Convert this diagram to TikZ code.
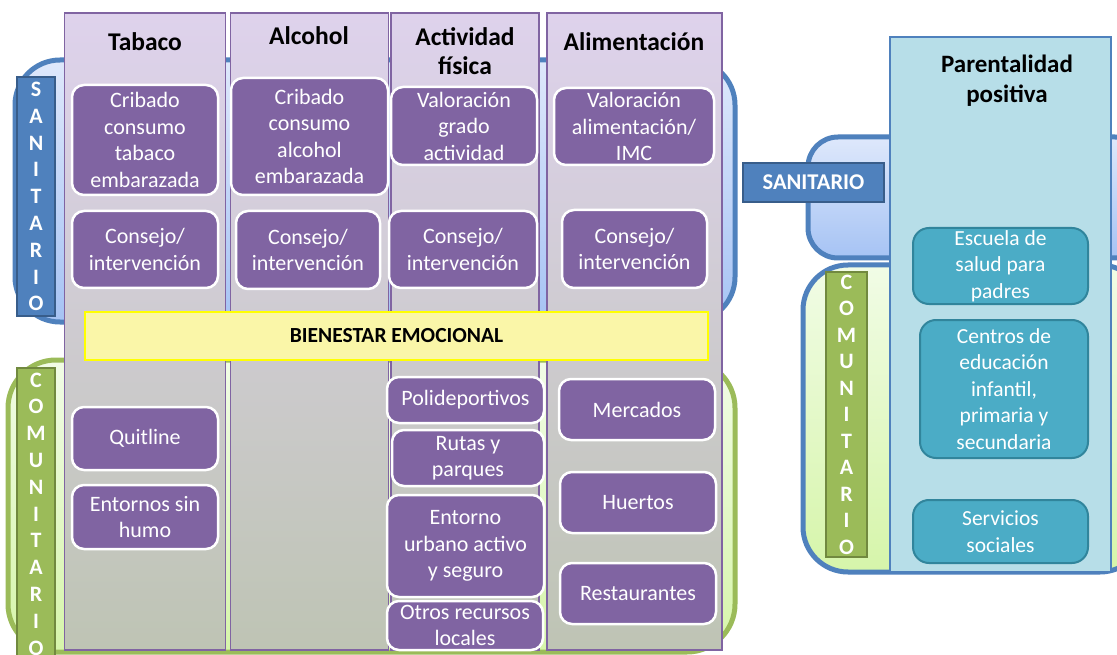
\documentclass[tikz,border=0pt]{standalone}
\usepackage{fontspec}
\setmainfont{Carlito}
\definecolor{purp}{RGB}{128,100,162}
\definecolor{purpline}{RGB}{128,100,162}
\definecolor{colTop}{RGB}{222,210,236}
\definecolor{colBot}{RGB}{190,196,180}
\definecolor{blueline}{RGB}{79,129,189}
\definecolor{blueTop}{RGB}{222,232,251}
\definecolor{blueBot}{RGB}{166,195,244}
\definecolor{greenline}{RGB}{155,187,89}
\definecolor{greenTop}{RGB}{241,252,230}
\definecolor{greenBot}{RGB}{214,245,170}
\definecolor{labblue}{RGB}{79,129,189}
\definecolor{labblueline}{RGB}{56,93,138}
\definecolor{labgreen}{RGB}{155,187,89}
\definecolor{labgreenline}{RGB}{113,137,63}
\definecolor{ltblue}{RGB}{183,222,232}
\definecolor{teal}{RGB}{75,172,198}
\definecolor{tealline}{RGB}{49,133,156}
\definecolor{yelfill}{RGB}{250,246,168}
\definecolor{yelline}{RGB}{255,255,0}
\newcommand\boxfont{\fontsize{22}{26.5}\selectfont}
\newcommand\tealfont{\fontsize{21.5}{26.5}\selectfont}
\newcommand\headfont{\fontsize{25.5}{29}\selectfont\bfseries}
\newcommand\vletfont{\fontsize{22}{26.8}\selectfont\bfseries}
\tikzset{
  pbox/.style={draw=white, line width=2.5, fill=purp, rounded corners=12, text=white, align=center, font=\boxfont, inner sep=0},
  tbox/.style={draw=tealline, line width=2, fill=teal, rounded corners=16, text=white, align=center, font=\tealfont, inner sep=0},
  colbox/.style={draw=purpline, line width=1.6, top color=colTop, bottom color=colBot, inner sep=0},
  head/.style={align=center, font=\headfont, inner sep=0},
  vlabB/.style={draw=labblueline, line width=1.5, fill=labblue, text=white, align=center, font=\vletfont, inner sep=0},
  vlabG/.style={draw=labgreenline, line width=1.5, fill=labgreen, text=white, align=center, font=\vletfont, inner sep=0},
  areaB/.style={draw=blueline, line width=5, top color=blueTop, bottom color=blueBot},
  areaG/.style={draw=greenline, line width=5, top color=greenTop, bottom color=greenBot},
  areaBG/.style={draw=blueline, line width=5, top color=greenTop, bottom color=greenBot},
}
\begin{document}
\begin{tikzpicture}[x=1pt,y=-1pt]
\useasboundingbox (0,0) rectangle (1117,655);
\clip (0,0) rectangle (1117,655);
\fill[white] (0,0) rectangle (1117,655);
% left areas
\path[areaB, rounded corners=45] (15,60) rectangle (735,322);
\path[areaG, rounded corners=48] (8,360) rectangle (735,652);
% right areas
\path[areaB, rounded corners=30] (808,137) rectangle (1145,258);
\path[areaBG, rounded corners=45] (803,265) rectangle (1145,572);
% columns
\node[colbox, minimum width=161, minimum height=637] (ctab) at (145,331.5) {};
\node[colbox, minimum width=158, minimum height=637] (calc) at (309.5,331.5) {};
\node[colbox, minimum width=148, minimum height=637] (cact) at (465,331.5) {};
\node[colbox, minimum width=175, minimum height=637] (cali) at (634.5,331.5) {};
% headers
\node[head] (htab) at (145,42) {Tabaco};
\node[head] (halc) at (309,36) {Alcohol};
\node[head] (hact) at (465,51.5) {Actividad\\física};
\node[head] (hali) at (634,42) {Alimentación};
% vertical labels left
\node[vlabB, minimum width=38, minimum height=239] (lsan) at (36,196.5) {S\\A\\N\\I\\T\\A\\R\\I\\O};
\node[vlabG, minimum width=38, minimum height=292] (lcom) at (36,514) {C\\O\\M\\U\\N\\I\\T\\A\\R\\I\\O};
% Tabaco boxes
\node[pbox, minimum width=146, minimum height=110] (tab1) at (145,140) {Cribado\\consumo\\tabaco\\embarazada};
\node[pbox, minimum width=146, minimum height=77] (tab2) at (145,249.5) {Consejo/\\intervención};
\node[pbox, minimum width=146, minimum height=63] (tab3) at (145,438.5) {Quitline};
\node[pbox, minimum width=146, minimum height=64] (tab4) at (145,517) {Entornos sin\\humo};
% Alcohol boxes
\node[pbox, minimum width=157, minimum height=117] (alc1) at (309.5,136.5) {Cribado\\consumo\\alcohol\\embarazada};
\node[pbox, minimum width=144, minimum height=78] (alc2) at (308,250) {Consejo/\\intervención};
% Actividad boxes
\node[pbox, minimum width=146, minimum height=78] (act1) at (464,126) {Valoración\\grado\\actividad};
\node[pbox, minimum width=148, minimum height=77] (act2) at (463,249.5) {Consejo/\\intervención};
\node[pbox, minimum width=157, minimum height=46] (act3) at (465.5,400) {Polideportivos};
\node[pbox, minimum width=152, minimum height=56] (act4) at (468,458) {Rutas y\\parques};
\node[pbox, minimum width=157, minimum height=102] (act5) at (465.5,546) {Entorno\\urbano activo\\y seguro};
\node[pbox, minimum width=156, minimum height=49] (act6) at (465,625.5) {Otros recursos\\locales};
% Alimentacion boxes
\node[pbox, minimum width=160, minimum height=77] (ali1) at (634,126.5) {Valoración\\alimentación/\\IMC};
\node[pbox, minimum width=145, minimum height=78] (ali2) at (634.5,249) {Consejo/\\intervención};
\node[pbox, minimum width=156, minimum height=61] (ali3) at (637,409.5) {Mercados};
\node[pbox, minimum width=156, minimum height=61] (ali4) at (638,502.5) {Huertos};
\node[pbox, minimum width=156, minimum height=61] (ali5) at (638,593.5) {Restaurantes};
% Bienestar
\node[draw=yelline, line width=2.5, fill=yelfill, minimum width=623, minimum height=48, inner sep=0, font=\fontsize{21.5}{24}\selectfont\bfseries] (bien) at (396.5,336) {BIENESTAR EMOCIONAL};
% Right column
\node[draw=blueline, line width=1.6, fill=ltblue, minimum width=221, minimum height=535, inner sep=0] (cpar) at (1000.5,304.5) {};
\node[head, font=\fontsize{25}{30}\selectfont\bfseries] (hpar) at (1007,81) {Parentalidad\\positiva};
\node[vlabB, minimum width=141, minimum height=39, font=\fontsize{22.5}{24}\selectfont\bfseries] (rsan) at (813.5,182.5) {SANITARIO};
\node[vlabG, minimum width=41, minimum height=285, font=\fontsize{22}{26.5}\selectfont\bfseries] (rcom) at (846.5,414.5) {C\\O\\M\\U\\N\\I\\T\\A\\R\\I\\O};
\node[tbox, minimum width=175, minimum height=76] (esc) at (1000.5,266) {Escuela de\\salud para\\padres};
\node[tbox, minimum width=168, minimum height=138] (cen) at (1004,389) {Centros de\\educación\\infantil,\\primaria y\\secundaria};
\node[tbox, minimum width=175, minimum height=63] (ser) at (1000.5,531.5) {Servicios\\sociales};
\end{tikzpicture}
\end{document}
